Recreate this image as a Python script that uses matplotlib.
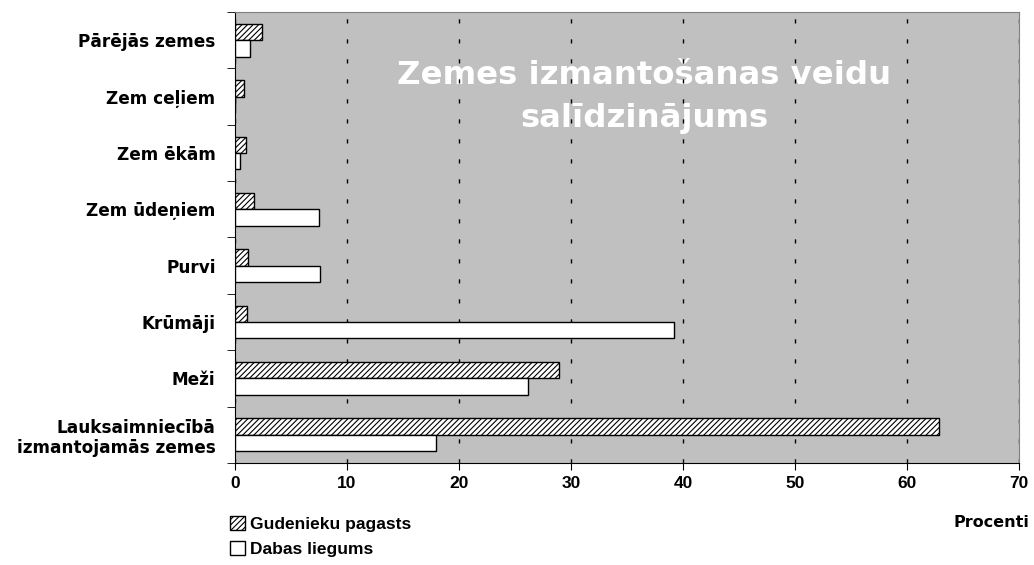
import matplotlib.pyplot as plt
import numpy as np

categories = ['Lauksaimniecībā\nizmantojamās zemes', 'Meži', 'Krūmāji', 'Purvi',
              'Zem ūdeņiem', 'Zem ēkām', 'Zem ceļiem', 'Pārējās zemes']
gudenieku = [62.9, 28.9, 1.1, 1.2, 1.7, 1.0, 0.8, 2.4]
dabas = [17.9, 26.2, 39.2, 7.6, 7.5, 0.4, 0.0, 1.35]
xticks = [0, 10, 20, 30, 40, 50, 60, 70]

plt.rcParams['hatch.linewidth'] = 0.8

fig = plt.figure(figsize=(10.34, 5.65), dpi=100)
ax = fig.add_axes([0.2273, 0.1805, 0.7582, 0.7983])
ax.set_facecolor('#c0c0c0')

y = np.arange(len(categories))
h = 0.29
b1 = ax.barh(y + h / 2, gudenieku, height=h, color='white', edgecolor='black',
             hatch='//////', linewidth=1, label='Gudenieku pagasts', zorder=3)
b2 = ax.barh(y - h / 2, dabas, height=h, color='white', edgecolor='black',
             linewidth=1, label='Dabas liegums', zorder=3)

ax.set_xlim(0, 70)
ax.set_ylim(-0.5, len(categories) - 0.5)
ax.set_xticks(xticks)
ax.set_xticklabels([str(t) for t in xticks], fontfamily='Liberation Sans',
                   fontweight='bold', fontsize=12.5)
ax.set_yticks(y)
ax.set_yticklabels(categories, fontfamily='DejaVu Sans', fontweight='bold', fontsize=12.2,
                   linespacing=1.15)
ax.tick_params(axis='y', which='major', length=0, pad=14)
ax.set_yticks(np.arange(len(categories) + 1) - 0.5, minor=True)
ax.tick_params(axis='y', which='minor', length=6, direction='out')
ax.tick_params(axis='x', length=5, direction='out', pad=4)

# grid sits above the title text, like the original
ax.grid(axis='x', color='black', linestyle=(0, (3, 11.4)), linewidth=1.0)
for s in ['top', 'right']:
    ax.spines[s].set_color('#808080')
for s in ['left', 'bottom']:
    ax.spines[s].set_color('black')

ax.text(0.522, 0.812, 'Zemes izmantošanas veidu\nsalīdzinājums', transform=ax.transAxes,
        ha='center', va='center', color='white', fontsize=23.3, fontweight='bold',
        fontfamily='DejaVu Sans', linespacing=1.5, zorder=1)

fig.text(0.996, 0.075, 'Procenti', ha='right', va='center', fontsize=11.5,
         fontweight='bold', fontfamily='DejaVu Sans')

fig.legend(handles=[b1, b2], loc='upper left', bbox_to_anchor=(0.222, 0.087),
           frameon=False, prop={'family': 'Liberation Sans', 'weight': 'bold', 'size': 12.5},
           handlelength=0.9, handleheight=0.9, handletextpad=0.25, labelspacing=0.5,
           borderaxespad=0, borderpad=0)

fig.savefig('out.png', dpi=100)
